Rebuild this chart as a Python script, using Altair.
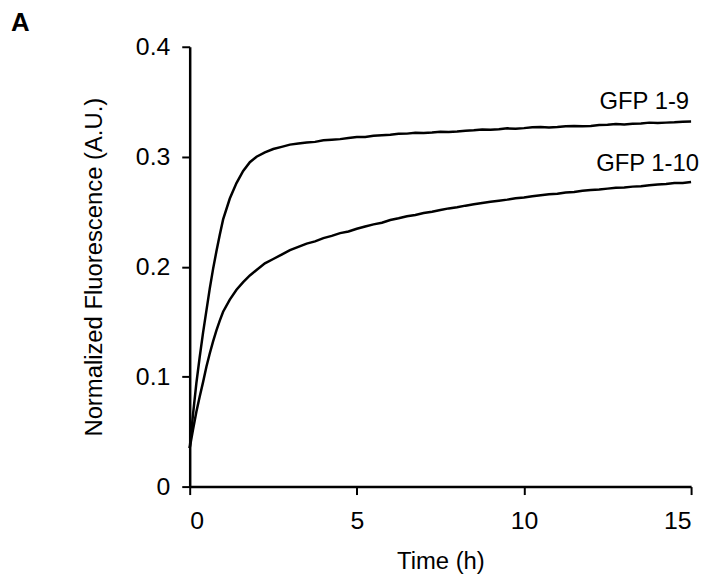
import altair as alt
import pandas as pd

# Time points (h)
time_h = [0, 0.1, 0.2, 0.3, 0.4, 0.5, 0.6, 0.7, 0.8, 0.9, 1.0, 1.2, 1.4, 1.6, 1.8, 2.0, 2.25, 2.5, 2.75,
          3.0, 3.25, 3.5, 3.75, 4.0, 4.25, 4.5, 4.75, 5.0, 5.25, 5.5, 5.75, 6.0, 6.25, 6.5, 6.75,
          7.0, 7.25, 7.5, 7.75, 8.0, 8.25, 8.5, 8.75, 9.0, 9.25, 9.5, 9.75, 10.0, 10.25, 10.5, 10.75,
          11.0, 11.25, 11.5, 11.75, 12.0, 12.25, 12.5, 12.75, 13.0, 13.25, 13.5, 13.75, 14.0, 14.25,
          14.5, 14.75, 15.0]

gfp_1_9 = [0.035, 0.066, 0.094, 0.118, 0.140, 0.160, 0.180, 0.198, 0.214, 0.229, 0.243, 0.262, 0.276,
           0.287, 0.295, 0.300, 0.304, 0.307, 0.309,
           0.311, 0.312, 0.313, 0.3135, 0.315, 0.3155, 0.316, 0.317, 0.318, 0.318, 0.319, 0.3195,
           0.320, 0.3208, 0.321, 0.3218, 0.3215, 0.322, 0.3228, 0.3225, 0.323, 0.3237, 0.324, 0.3248,
           0.3245, 0.325, 0.3258, 0.3255, 0.326, 0.3268, 0.327, 0.3266, 0.327, 0.3278, 0.328, 0.3277,
           0.328, 0.3288, 0.329, 0.3297, 0.3294, 0.330, 0.3302, 0.331, 0.3306, 0.331, 0.3313, 0.3318, 0.332]

gfp_1_10 = [0.035, 0.052, 0.068, 0.082, 0.095, 0.109, 0.121, 0.132, 0.142, 0.151, 0.159, 0.170, 0.179,
            0.186, 0.192, 0.197, 0.203, 0.207, 0.211,
            0.215, 0.218, 0.221, 0.223, 0.226, 0.228, 0.2305, 0.232, 0.2345, 0.2365, 0.2385, 0.240,
            0.2425, 0.244, 0.2458, 0.247, 0.2488, 0.250, 0.2515, 0.253, 0.254, 0.2555, 0.2568, 0.258,
            0.259, 0.260, 0.261, 0.2623, 0.263, 0.264, 0.265, 0.2658, 0.2663, 0.2675, 0.268, 0.269,
            0.2697, 0.2702, 0.271, 0.2718, 0.272, 0.2728, 0.2732, 0.274, 0.2748, 0.2752, 0.276, 0.2762, 0.277]

series_names = ["GFP 1-9", "GFP 1-10"]
panel_label = ["A"]
x_ticks = [0, 5, 10, 15]
y_ticks = [0, 0.1, 0.2, 0.3, 0.4]

df = pd.concat([
    pd.DataFrame({"t": time_h, "v": gfp_1_9, "series": series_names[0]}),
    pd.DataFrame({"t": time_h, "v": gfp_1_10, "series": series_names[1]}),
])

FONT = "Liberation Sans"

x_enc = alt.X("t:Q", scale=alt.Scale(domain=[0, 15], nice=False),
              axis=alt.Axis(values=x_ticks, title="Time (h)", labelPadding=14, titlePadding=16))
y_enc = alt.Y("v:Q", scale=alt.Scale(domain=[0, 0.4], nice=False),
              axis=alt.Axis(values=y_ticks, format="~g", title="Normalized Fluorescence (A.U.)",
                            labelPadding=12, titlePadding=29))

base = alt.Chart(df)

lines = base.mark_line(strokeWidth=2.5, color="black").encode(
    x=x_enc, y=y_enc, detail="series:N"
)

lab19 = base.transform_filter(
    (alt.datum.series == series_names[0]) & (alt.datum.t == 15)
).mark_text(align="right", baseline="bottom", dx=-2, dy=-8, fontSize=24, font=FONT, color="black").encode(
    x="t:Q", y="v:Q", text="series:N"
)

lab110 = base.transform_filter(
    (alt.datum.series == series_names[1]) & (alt.datum.t == 15)
).mark_text(align="right", baseline="bottom", dx=8, dy=-6, fontSize=24, font=FONT, color="black").encode(
    x="t:Q", y="v:Q", text="series:N"
)

panel = alt.Chart(pd.DataFrame({"label": panel_label})).mark_text(
    align="left", baseline="alphabetic", fontSize=26, fontWeight="bold", font=FONT, color="black"
).encode(x=alt.value(-180), y=alt.value(-16), text="label:N")

chart = alt.layer(lines, lab19, lab110, panel).properties(
    width=505, height=443,
    background="white",
    autosize=alt.AutoSizeParams(type="none"),
    padding={"left": 183, "top": 37, "right": 12, "bottom": 88},
).configure_view(stroke=None).configure_axis(
    grid=False,
    domainColor="black", domainWidth=2.5,
    tickColor="black", tickWidth=2, tickSize=8,
    labelColor="black", labelFont=FONT, labelFontSize=25,
    titleColor="black", titleFont=FONT, titleFontSize=24, titleFontWeight="normal",
)

chart.save("out.html", embed_options={"renderer": "svg", "actions": False})
